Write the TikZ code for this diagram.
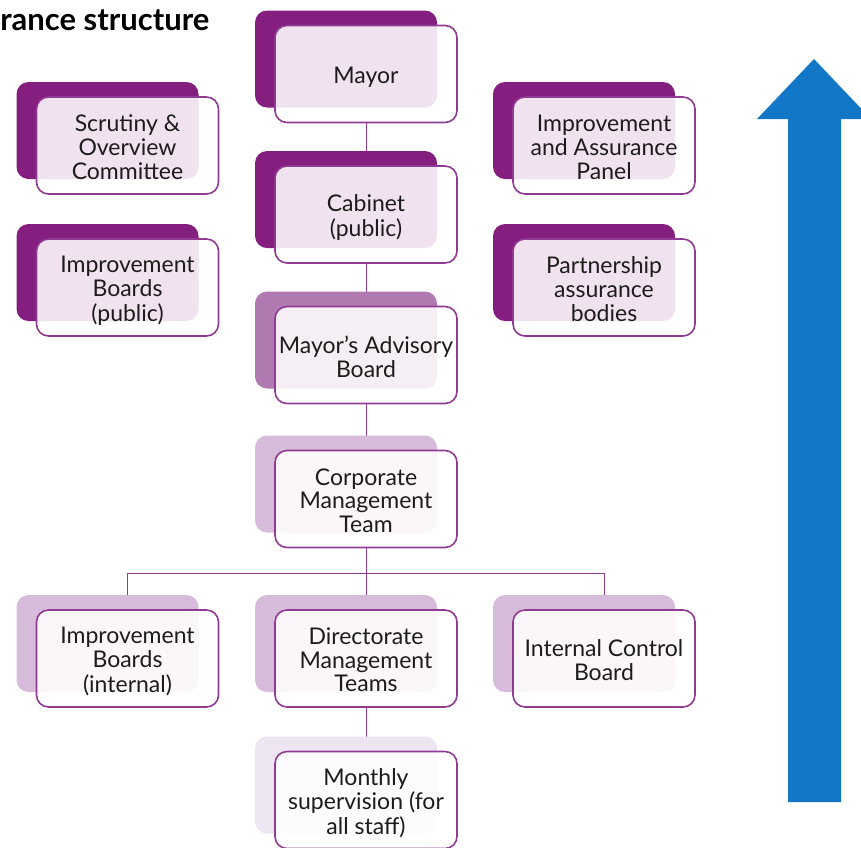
\documentclass[tikz,border=0pt]{standalone}
\usepackage{fontspec}
\setmainfont{Lato}
\usetikzlibrary{positioning,calc}
\definecolor{plumdark}{RGB}{132,31,127}
\definecolor{plummid}{RGB}{176,122,176}
\definecolor{plumlight}{RGB}{214,187,219}
\definecolor{plumpale}{RGB}{238,229,242}
\definecolor{plumline}{RGB}{145,58,148}
\definecolor{inkgray}{RGB}{30,27,28}
\definecolor{upblue}{RGB}{17,119,198}
\pgfdeclarelayer{bg}
\pgfsetlayers{bg,main}
% back plate + front box, name / centre / plate colour / text
\newcommand*{\gbox}[4]{%
  \node[backbox,fill=#3] (#1-s) at ($#2+(-20,15)$) {};
  \node[frontbox] (#1) at #2
    {\raisebox{-5pt}[\height][\depth]{\begin{tabular}{@{}c@{}}#4\end{tabular}}};}

\begin{document}
\begin{tikzpicture}[x=1pt,y=1pt,
  backbox/.style={minimum width=182pt,minimum height=97pt,inner sep=0pt,
    rounded corners=12pt},
  frontbox/.style={draw=plumline,line width=1.6pt,fill=white,fill opacity=.88,
    text opacity=1,text=inkgray,minimum width=182pt,minimum height=97pt,
    inner sep=0pt,rounded corners=12pt,
    font=\fontsize{23}{23.6}\selectfont},
  conn/.style={draw=plumline,line width=1pt}]
\useasboundingbox (0,0) rectangle (861,-847);
% Title (cut off at the left edge)
\node[anchor=base east,font=\fontsize{31}{31}\selectfont\bfseries] (title)
  at (213,-30) {rance structure};
% Middle column
\gbox{mayor}{(366,-74)}{plumdark}{Mayor}
\gbox{cab}{(366,-214.5)}{plumdark}{Cabinet\\(public)}
\gbox{mab}{(366,-355)}{plummid}{Mayor’s Advisory\\Board}
\gbox{cmt}{(366,-499)}{plumlight}{Corporate\\Management\\Team}
% Left column
\gbox{scr}{(127.5,-145.5)}{plumdark}{Scrutiny \&\\Overview\\Committee}
\gbox{ibp}{(127.5,-287.5)}{plumdark}{Improvement\\Boards\\(public)}
% Right column
\gbox{iap}{(604,-145.5)}{plumdark}{Improvement\\and Assurance\\Panel}
\gbox{pab}{(604,-287.5)}{plumdark}{Partnership\\assurance\\bodies}
% Bottom row
\gbox{ibi}{(127.5,-658.5)}{plumlight}{Improvement\\Boards\\(internal)}
\gbox{dmt}{(366,-658.5)}{plumlight}{Directorate\\Management\\Teams}
\gbox{icb}{(604,-658.5)}{plumlight}{Internal Control\\Board}
\gbox{mon}{(366,-800)}{plumpale}{Monthly\\supervision (for\\all staff)}
% Connectors, under the plates
\coordinate (split) at (366,-573);
\begin{pgfonlayer}{bg}
\draw[conn] (mayor) -- (cab) -- (mab) -- (cmt) -- (dmt) -- (mon);
\draw[conn] (ibi) |- (split) -| (icb);
\end{pgfonlayer}
% Big arrow
\fill[upblue] (788,-802) -- (788,-119) -- (757,-119) -- (814,-59)
  -- (871,-119) -- (841,-119) -- (841,-802) -- cycle;
\end{tikzpicture}
\end{document}
